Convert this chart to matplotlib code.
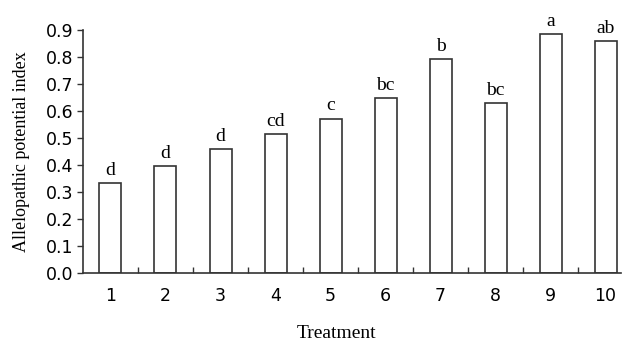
import numpy as np
import matplotlib.pyplot as plt
from matplotlib.ticker import FixedLocator

# ======================
# Data
# ======================
treatments = [1, 2, 3, 4, 5, 6, 7, 8, 9, 10]
index_vals = [0.334, 0.397, 0.459, 0.515, 0.572, 0.649, 0.793, 0.628, 0.885, 0.858]
letters = ["d", "d", "d", "cd", "c", "bc", "b", "bc", "a", "ab"]

serif = "Liberation Serif"
edge = "#333333"

fig = plt.figure(figsize=(6.22, 3.41), dpi=100)
ax = fig.add_axes([0.1334, 0.1994, 0.865, 0.7126])

x = np.array(treatments)
ax.bar(x, index_vals, width=0.4, color="white", edgecolor=edge, linewidth=1.2)

# significance letters above bars
for xi, v, lab in zip(x, index_vals, letters):
    ax.annotate(lab, (xi, v), xytext=(0, 3), textcoords="offset points",
                ha="center", va="bottom", fontsize=14, family=serif)

ax.set_xlim(0.5, 10.28)
ax.set_ylim(0, 0.9)
yt = np.arange(0, 0.91, 0.1)
ax.set_yticks(yt)
ax.set_yticklabels([f"{t:.1f}" for t in yt])
ax.set_xticks(x)
ax.set_xticklabels([str(t) for t in treatments])
ax.xaxis.set_minor_locator(FixedLocator(np.arange(1.5, 10.5, 1)))

ax.tick_params(axis="y", direction="out", length=4, width=1.0, color=edge,
               labelsize=12.5, pad=3)
ax.tick_params(axis="x", which="major", length=0, labelsize=12.5, pad=10)
ax.tick_params(axis="x", which="minor", direction="in", length=4, width=1.0, color=edge)

for s in ["top", "right"]:
    ax.spines[s].set_visible(False)
for s in ["left", "bottom"]:
    ax.spines[s].set_color(edge)
    ax.spines[s].set_linewidth(1.2)

ax.set_ylabel("Allelopathic potential index", family=serif, fontsize=13, labelpad=11)
ax.set_xlabel("Treatment", family=serif, fontsize=14)
ax.xaxis.set_label_coords(0.472, -0.212)

fig.savefig("out.png", dpi=100)
